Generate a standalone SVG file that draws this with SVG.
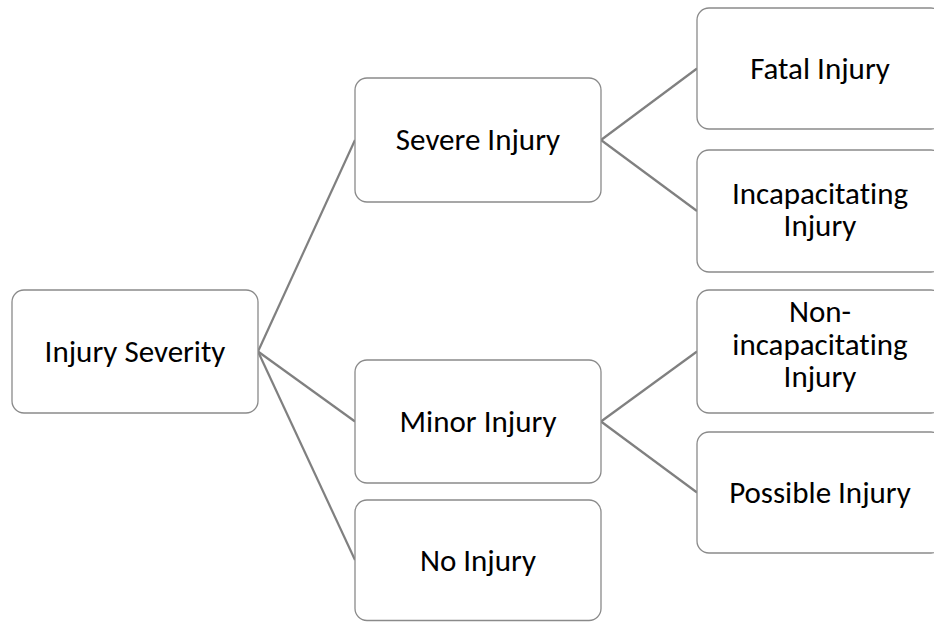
<svg xmlns="http://www.w3.org/2000/svg" width="934" height="622" viewBox="0 0 934 622">
<style>
.box{fill:#fff;stroke:#8a8a8a;stroke-width:1.3}
.lbl{font-family:Carlito,Lato,"Liberation Sans",sans-serif;font-size:31px;fill:#000;text-anchor:middle;font-variant-ligatures:none}
.conn line{stroke:#808080;stroke-width:2.2;fill:none}
</style>
<rect width="934" height="622" fill="#fff"/>
<g id="connectors" class="conn">
<line x1="258" y1="351.5" x2="355" y2="140"/>
<line x1="258" y1="351.5" x2="355" y2="421.5"/>
<line x1="258" y1="351.5" x2="355" y2="560"/>
<line x1="601" y1="140" x2="697" y2="68.5"/>
<line x1="601" y1="140" x2="697" y2="211"/>
<line x1="601" y1="421.5" x2="697" y2="351.5"/>
<line x1="601" y1="421.5" x2="697" y2="492.5"/>
</g>
<g id="injury-severity"><rect class="box" x="12" y="290" width="246" height="123" rx="12"/><text class="lbl" x="135" y="362">Injury Severity</text></g>
<g id="severe-injury"><rect class="box" x="355" y="78" width="246" height="124" rx="12"/><text class="lbl" x="478" y="150">Severe Injury</text></g>
<g id="minor-injury"><rect class="box" x="355" y="360" width="246" height="123" rx="12"/><text class="lbl" x="478" y="432">Minor Injury</text></g>
<g id="no-injury"><rect class="box" x="355" y="500" width="246" height="120.5" rx="12"/><text class="lbl" x="478" y="571">No Injury</text></g>
<g id="fatal-injury"><rect class="box" x="697" y="8" width="246" height="121" rx="12"/><text class="lbl" x="820" y="79">Fatal Injury</text></g>
<g id="incapacitating-injury"><rect class="box" x="697" y="150" width="246" height="122" rx="12"/><text class="lbl" x="820" y="204">Incapacitating<tspan x="820" dy="32">Injury</tspan></text></g>
<g id="non-incapacitating-injury"><rect class="box" x="697" y="290" width="246" height="123" rx="12"/><text class="lbl" x="820" y="322">Non-<tspan x="820" dy="32.5">incapacitating</tspan><tspan x="820" dy="32">Injury</tspan></text></g>
<g id="possible-injury"><rect class="box" x="697" y="432" width="246" height="121" rx="12"/><text class="lbl" x="820" y="503">Possible Injury</text></g>
</svg>
